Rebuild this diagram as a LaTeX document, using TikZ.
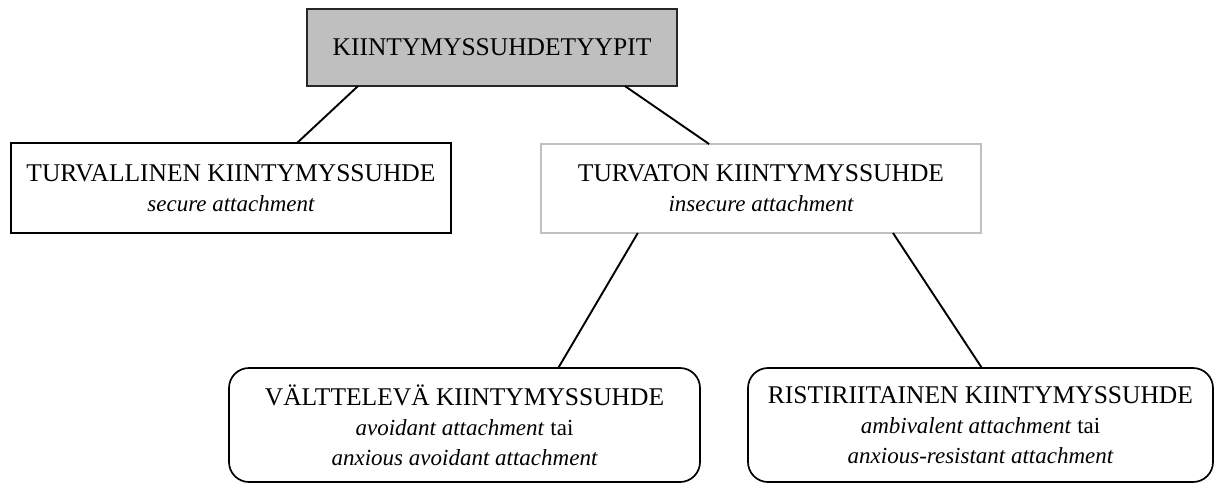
\documentclass[tikz,border=0pt]{standalone}
\usepackage{fontspec}
\setmainfont{Liberation Serif}
\usetikzlibrary{calc}
\definecolor{rootgray}{HTML}{BFBFBF}
\definecolor{framegray}{HTML}{C0C0C0}
\tikzset{
box/.style={rectangle,inner sep=0pt,outer sep=0pt,align=center,
  font=\fontsize{25.5}{30}\selectfont},
typesbox/.style={box,draw=black!85,line width=1.3pt,fill=rootgray,
  minimum width=370pt,minimum height=77pt},
securebox/.style={box,draw=black,line width=2.3pt,
  minimum width=440pt,minimum height=90pt},
insecurebox/.style={box,draw=framegray,line width=1.3pt,
  minimum width=440pt,minimum height=89pt},
subbox/.style={box,draw=black,line width=1.7pt,rounded corners=20pt,
  minimum height=114pt},
link/.style={line width=1.9pt,draw=black},
}
\newcommand{\eng}[1]{{\fontsize{23}{28}\selectfont\itshape #1}}

\begin{document}
\begin{tikzpicture}[x=1pt,y=-1pt]
\useasboundingbox (0,0) rectangle (1215,483);
\node[typesbox] (types) at (492,47.5) {KIINTYMYSSUHDETYYPIT};
\node[securebox] (secure) at (231,188) {TURVALLINEN KIINTYMYSSUHDE\\ \eng{secure attachment}};
\node[insecurebox] (insecure) at (761,188.5) {TURVATON\ KIINTYMYSSUHDE\\ \eng{insecure attachment}};
\node[subbox,minimum width=471pt] (avoidant) at (464.5,425)
  {VÄLTTELEVÄ KIINTYMYSSUHDE\\ \eng{avoidant attachment} {\fontsize{23}{28}\selectfont tai}\\ \eng{anxious avoidant attachment}};
\node[subbox,minimum width=465pt] (ambivalent) at (980.5,425)
  {RISTIRIITAINEN KIINTYMYSSUHDE\\ \eng{ambivalent attachment} {\fontsize{23}{28}\selectfont tai}\\ \eng{anxious-resistant attachment}};
% connectors
\draw[link] ($(types.south west)!0.138!(types.south east)$) -- ($(secure.north west)!0.65!(secure.north east)$);
\draw[link] ($(types.south west)!0.859!(types.south east)$) -- ($(insecure.north west)!0.382!(insecure.north east)$);
\draw[link] ($(insecure.south west)!0.22!(insecure.south east)$) -- ($(avoidant.north west)!0.699!(avoidant.north east)$);
\draw[link] ($(insecure.south west)!0.8!(insecure.south east)$) -- ($(ambivalent.north west)!0.503!(ambivalent.north east)$);
\end{tikzpicture}
\end{document}
